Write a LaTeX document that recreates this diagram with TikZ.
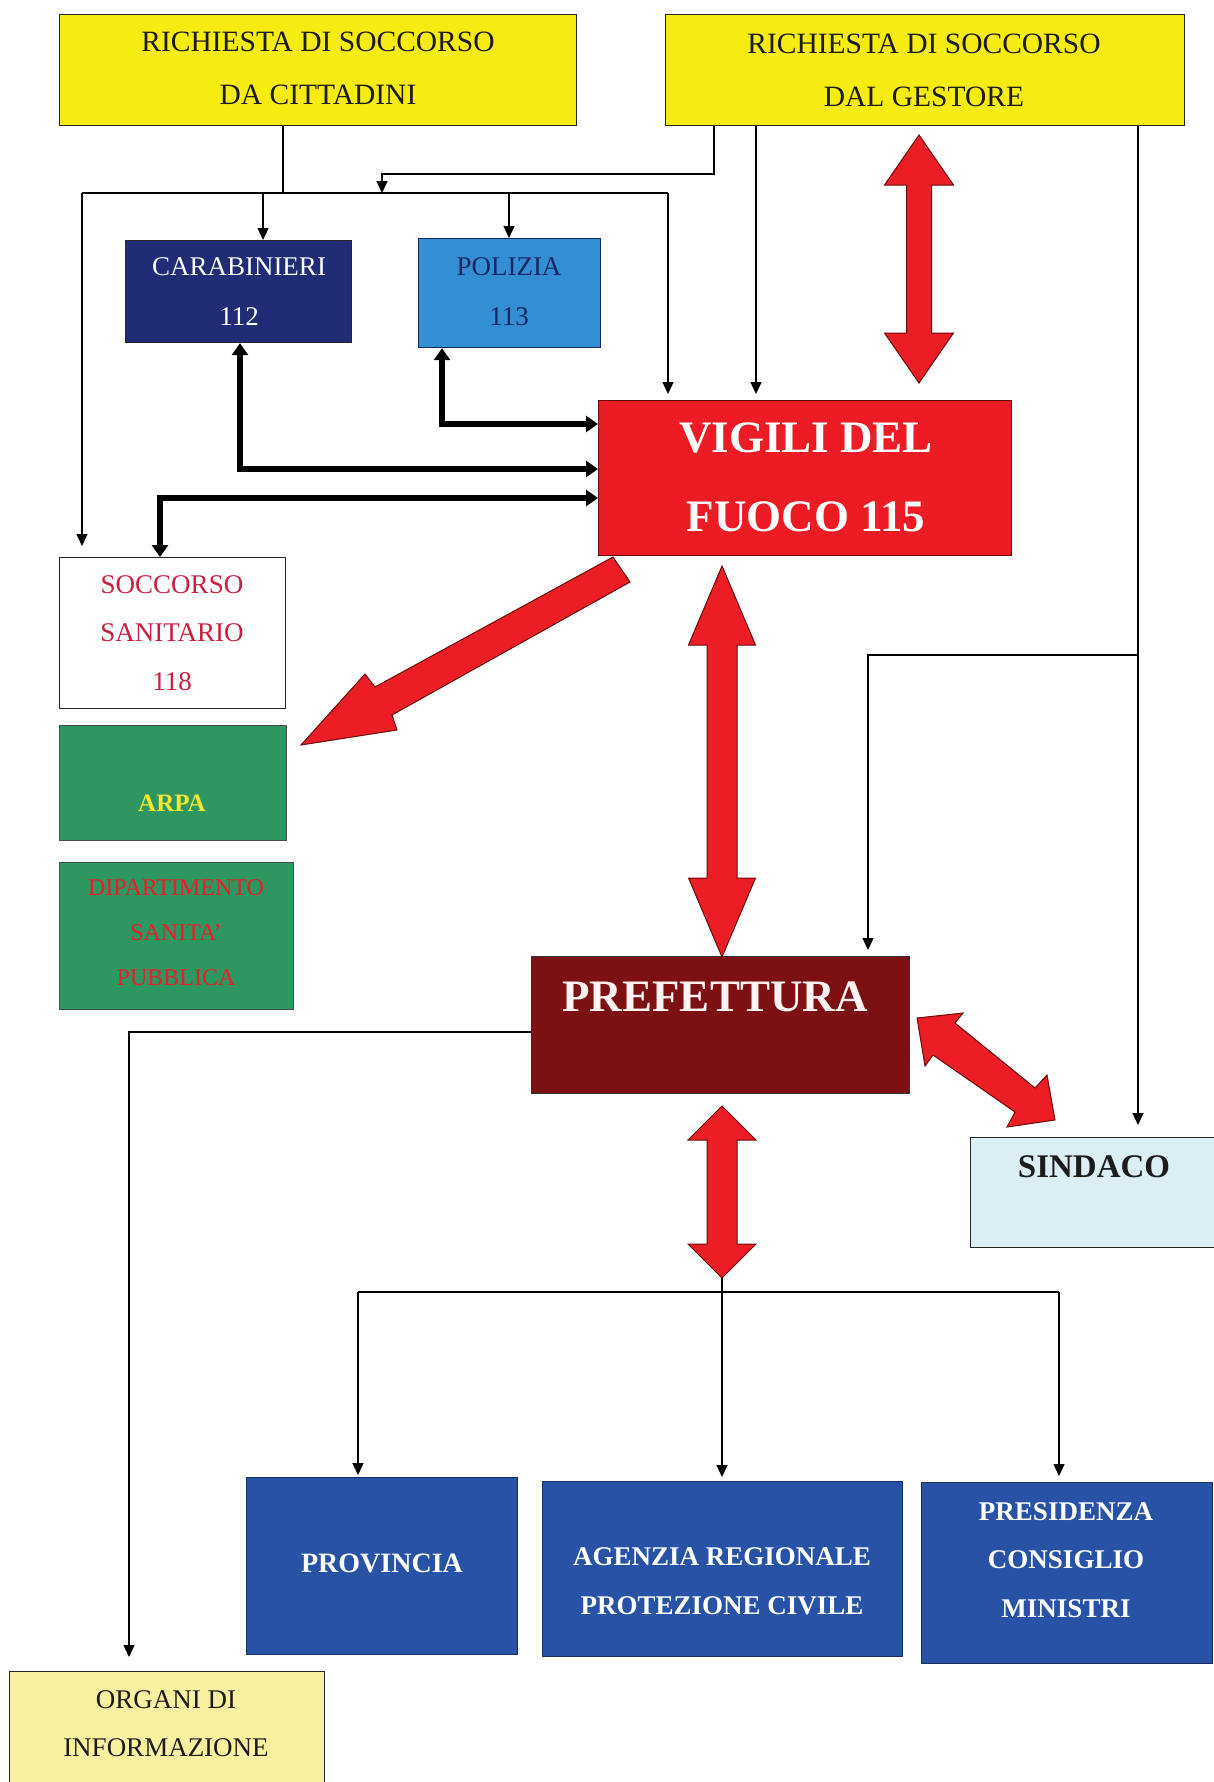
\documentclass[tikz,border=0pt]{standalone}
\usepackage{fontspec}
\setmainfont{Liberation Serif}
\usetikzlibrary{arrows.meta,calc}
\definecolor{ylw}{RGB}{247,236,18}
\definecolor{carab}{RGB}{32,44,118}
\definecolor{poliz}{RGB}{52,142,212}
\definecolor{polizt}{RGB}{22,40,100}
\definecolor{vred}{RGB}{237,28,36}
\definecolor{arrred}{RGB}{234,30,36}
\definecolor{arredge}{RGB}{110,10,10}
\definecolor{prefc}{RGB}{125,16,18}
\definecolor{sindc}{RGB}{218,238,244}
\definecolor{grn}{RGB}{46,150,96}
\definecolor{arpay}{RGB}{240,232,50}
\definecolor{dipr}{RGB}{232,30,40}
\definecolor{socr}{RGB}{200,32,62}
\definecolor{blu}{RGB}{40,82,166}
\definecolor{orgy}{RGB}{250,241,160}
\definecolor{txtd}{RGB}{28,28,28}
\newcommand\myVArrow[6]{%
\draw[redar] (#1,#2) -- ({#1+#4},{#2+#5}) -- ({#1+#6},{#2+#5}) -- ({#1+#6},{#3-#5}) -- ({#1+#4},{#3-#5}) -- (#1,#3) -- ({#1-#4},{#3-#5}) -- ({#1-#6},{#3-#5}) -- ({#1-#6},{#2+#5}) -- ({#1-#4},{#2+#5}) -- cycle;}
\newcommand\fs[2]{\fontsize{#1}{#2}\selectfont}
\begin{document}
\begin{tikzpicture}[x=1pt,y=-1pt,
  bx/.style={draw=black!85, line width=1.2pt, inner sep=0pt, anchor=north west},
  tx/.style={inner sep=0pt, anchor=center, align=center},
  thinl/.style={draw=black, line width=1.3pt},
  thinarr/.style={thinl, -{Triangle[width=11pt,length=12pt]}},
  thickarr/.style={draw=black, line width=5.5pt, {Triangle[width=16pt,length=12pt]}-{Triangle[width=16pt,length=12pt]}},
  redar/.style={fill=arrred, draw=arredge, line width=1pt, line join=miter}]
\useasboundingbox[fill=white] (0,0) rectangle (1214,1782);

% boxes
\node[bx, fill=ylw, minimum width=517pt, minimum height=111pt] (cit) at (59,14) {};
\node[bx, fill=ylw, minimum width=519pt, minimum height=111pt] (ges) at (665,14) {};
\node[bx, fill=carab, minimum width=226pt, minimum height=102pt] (car) at (125,240) {};
\node[bx, fill=poliz, draw=polizt, minimum width=182pt, minimum height=109pt] (pol) at (418,238) {};
\node[bx, fill=vred, draw=arredge, minimum width=413pt, minimum height=155pt] (vig) at (598,400) {};
\node[bx, fill=white, minimum width=226pt, minimum height=151pt] (soc) at (59,557) {};
\node[bx, fill=grn, draw=black!70, minimum width=227pt, minimum height=115pt] (arpa) at (59,725) {};
\node[bx, fill=grn, draw=black!70, minimum width=234pt, minimum height=147pt] (dip) at (59,862) {};
\node[bx, fill=prefc, draw=black!80, minimum width=378pt, minimum height=137pt] (pref) at (531,956) {};
\node[bx, fill=sindc, minimum width=248pt, minimum height=110pt] (sind) at (970,1137) {};
\node[bx, fill=blu, draw=blu!60!black, minimum width=271pt, minimum height=177pt] (prov) at (246,1477) {};
\node[bx, fill=blu, draw=blu!60!black, minimum width=360pt, minimum height=175pt] (agz) at (542,1481) {};
\node[bx, fill=blu, draw=blu!60!black, minimum width=291pt, minimum height=181pt] (pres) at (921,1482) {};
\node[bx, fill=orgy, minimum width=315pt, minimum height=118pt] (org) at (9,1671) {};

% texts
\node[tx, text=txtd, font={\fs{29.5}{53}}] (citT) at (318,68.5) {RICHIESTA DI SOCCORSO\\DA CITTADINI};
\node[tx, text=txtd, font={\fs{29.5}{53}}] (gesT) at (924,70) {RICHIESTA DI SOCCORSO\\DAL GESTORE};
\node[tx, text=white, font={\fs{27}{50}}] (carT) at (239,292) {CARABINIERI\\112};
\node[tx, text=polizt, font={\fs{27}{50}}] (polT) at (509,292) {POLIZIA\\113};
\node[tx, text=white, font={\fs{45}{79}\bfseries}] (vigT) at (806,477.5) {VIGILI DEL\\FUOCO 115};
\node[tx, text=socr, font={\fs{27}{48.5}}] (socT) at (172,633) {SOCCORSO\\SANITARIO\\118};
\node[tx, text=arpay, font={\fs{25}{30}\bfseries}] (arpaT) at (172,803) {ARPA};
\node[tx, text=dipr, font={\fs{24}{45}}] (dipT) at (176,933) {DIPARTIMENTO\\SANITA'\\PUBBLICA};
\node[tx, text=white!95!red, font={\fs{45}{50}\bfseries}] (prefT) at (715,997) {PREFETTURA};
\node[tx, text=txtd, font={\fs{33}{40}\bfseries}] (sindT) at (1094,1167) {SINDACO};
\node[tx, text=white, font={\fs{28}{40}\bfseries}] (provT) at (382,1563) {PROVINCIA};
\node[tx, text=white, font={\fs{27}{49}\bfseries}] (agzT) at (722,1581) {AGENZIA REGIONALE\\PROTEZIONE CIVILE};
\node[tx, text=white, font={\fs{27}{48.5}\bfseries}] (presT) at (1066,1560) {PRESIDENZA\\CONSIGLIO\\MINISTRI};
\node[tx, text=txtd, font={\fs{27}{48}}] (orgT) at (166,1724) {ORGANI DI\\INFORMAZIONE};

% coordinates
\coordinate (jc) at (283,193);
\coordinate (hl) at (82,193);
\coordinate (hr) at (668,193);
\coordinate (jca) at (263,193);
\coordinate (jpo) at (509,193);
\coordinate (g1) at (714,174);
\coordinate (g1e) at (382,193);
\coordinate (g2) at (756,300);
\coordinate (g3) at (1138,655);
\coordinate (g4) at (868,655);
\coordinate (p1) at (129,1032);
\coordinate (bl) at (358,1292);
\coordinate (br) at (1059,1292);
\coordinate (ctip) at (722,1278);
\coordinate (k1) at (442,424);
\coordinate (k2) at (240,469);
\coordinate (k3) at (160,498);

% thin connectors
\draw[thinl] (cit.south -| jc) -- (jc);
\draw[thinl] (hl) -- (hr);
\draw[thinarr, shorten >=11pt] (hl) -- (soc.north -| hl);
\draw[thinarr, shorten >=6pt] (hr) -- (vig.north -| hr);
\draw[thinarr] (jca) -- (car.north -| jca);
\draw[thinarr] (jpo) -- (pol.north -| jpo);
\draw[thinarr] (ges.south -| g1) -- (g1) -| (g1e);
\draw[thinarr, shorten >=6pt] (ges.south -| g2) -- (vig.north -| g2);
\draw[thinarr, shorten >=12pt] (ges.south -| g3) -- (sind.north -| g3);
\draw[thinarr, shorten >=6pt] (g3) -- (g4) -- (pref.north -| g4);
\draw[thinarr, shorten >=14pt] (pref.west |- p1) -- (p1) -- (org.north -| p1);
\draw[thinl] (bl) -- (br);
\draw[thinarr, shorten >=4pt] (ctip) -- (agz.north -| ctip);
\draw[thinarr, shorten >=2pt] (bl) -- (prov.north -| bl);
\draw[thinarr, shorten >=6pt] (br) -- (pres.north -| br);

% thick connectors
\draw[thickarr] (pol.south -| k1) -- (k1) -- (vig.west |- k1);
\draw[thickarr] (car.south -| k2) -- (k2) -- (vig.west |- k2);
\draw[thickarr] (vig.west |- k3) -- (k3) -- (soc.north -| k3);

% big red arrows
\myVArrow{919}{135}{383}{34.5}{50}{12.5}
\myVArrow{722}{566}{957}{33.5}{79}{15}
\myVArrow{722}{1106}{1278}{34}{34}{15}
\draw[redar] (301,745) -- (365,674) -- (375,687) -- (613,557) -- (630,582) -- (392,715) -- (397,730) -- cycle;
\draw[redar] (917,1018) -- (963,1013) -- (955,1023) -- (1035,1088) -- (1047,1075) -- (1055,1120) -- (1007,1127) -- (1015,1112) -- (933,1055) -- (925,1066) -- cycle;
\end{tikzpicture}
\end{document}
